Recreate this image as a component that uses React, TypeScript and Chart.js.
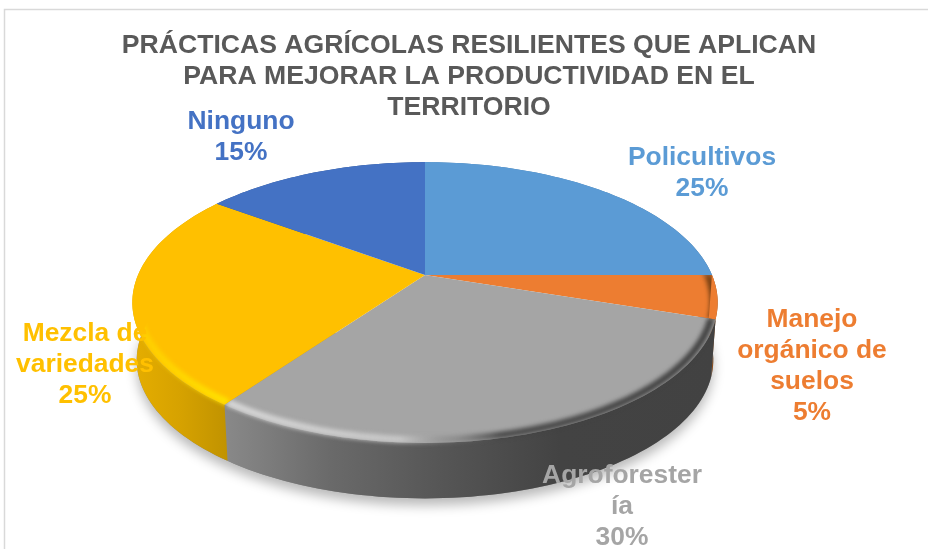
import React, { useEffect, useRef } from "react";
import { Chart, registerables } from "chart.js";

Chart.register(...registerables);

const categories = ["Policultivos", "Manejo orgánico de suelos", "Agroforestería", "Mezcla de variedades", "Ninguno"];
const values = [25, 5, 30, 25, 15];
const colors = ["#5B9BD5", "#ED7D31", "#A5A5A5", "#FFC000", "#4472C4"];
const titleLines = [
  "PRÁCTICAS AGRÍCOLAS RESILIENTES QUE APLICAN",
  "PARA MEJORAR LA PRODUCTIVIDAD EN EL",
  "TERRITORIO",
];
const labelLines = [
  ["Policultivos", "25%"],
  ["Manejo", "orgánico de", "suelos", "5%"],
  ["Agroforester", "ía", "30%"],
  ["Mezcla de", "variedades", "25%"],
  ["Ninguno", "15%"],
];
const labelAnchors = [
  [702, 158],
  [812, 320],
  [622, 476],
  [85, 334],
  [241, 122],
];

// side-wall gradients per slice: [x, colour]
const sideStops: [number, string][][] = [
  [[600, "#4a80b0"], [720, "#3c6a94"]],
  [[690, "#c8691f"], [720, "#7c4314"]],
  [[228, "#888888"], [330, "#6a6a6a"], [440, "#565656"], [560, "#434343"], [720, "#424242"]],
  [[130, "#e6ae00"], [180, "#d6a200"], [235, "#bd9000"]],
  [[200, "#33548f"], [430, "#33548f"]],
];
// rim (bevel) gradients per slice
const rimStops: [number, string][][] = [
  [[560, "rgba(60,90,120,0)"], [716, "rgba(50,80,110,0.7)"]],
  [[700, "rgba(90,50,10,0.6)"], [718, "rgba(70,40,10,0.85)"]],
  [[228, "rgba(215,215,215,1)"], [400, "rgba(205,205,205,0.85)"], [455, "rgba(120,120,120,0.5)"], [500, "rgba(66,66,66,0.9)"], [716, "rgba(66,66,66,1)"]],
  [[130, "rgba(255,215,0,0.55)"], [235, "rgba(255,228,0,1)"]],
  [[200, "rgba(68,114,196,0)"], [430, "rgba(68,114,196,0)"]],
];

const CX = 425, CY = 275, A = 287, B = 135, P = 0.196, DEPTH = 56, BOTTOM_SCALE = 0.985;
const RIM_LIMIT = Math.PI * 1.58;

function project(theta: number, bottom: boolean, r = 1): [number, number] {
  const u = Math.sin(theta) * r;
  const v = -Math.cos(theta) * r;
  const d = 1 - P * v;
  const x = (A * u) / d;
  const y = (B * v) / d;
  if (!bottom) return [CX + x, CY + y];
  return [CX + x * BOTTOM_SCALE, CY + y * BOTTOM_SCALE + 2 + DEPTH];
}

function arcPts(a0: number, a1: number, bottom: boolean, r = 1) {
  const n = Math.max(4, Math.ceil(((a1 - a0) / (Math.PI * 2)) * 240));
  const pts: [number, number][] = [];
  for (let i = 0; i <= n; i++) pts.push(project(a0 + ((a1 - a0) * i) / n, bottom, r));
  return pts;
}

function trace(ctx: CanvasRenderingContext2D, pts: [number, number][], start = true) {
  pts.forEach((p, i) => {
    if (i === 0 && start) ctx.moveTo(p[0], p[1]);
    else ctx.lineTo(p[0], p[1]);
  });
}

function grad(ctx: CanvasRenderingContext2D, stops: [number, string][]) {
  const x0 = stops[0][0];
  const x1 = stops[stops.length - 1][0];
  const g = ctx.createLinearGradient(x0, 0, x1, 0);
  stops.forEach(([x, c]) => g.addColorStop((x - x0) / (x1 - x0), c));
  return g;
}

const pie3d = {
  id: "pie3d",
  beforeDraw(chart: any) {
    const { ctx, width, height } = chart;
    ctx.save();
    ctx.fillStyle = "#ffffff";
    ctx.fillRect(0, 0, width, height);
    ctx.strokeStyle = "#d9d9d9";
    ctx.lineWidth = 1.5;
    ctx.strokeRect(4.5, 9.5, width + 20, height + 20);
    ctx.restore();
  },
  beforeDatasetsDraw(chart: any) {
    const { ctx } = chart;
    const arcs = chart.getDatasetMeta(0).data;
    const angles = arcs.map((el: any) => {
      const p = el.getProps(["startAngle", "endAngle"], true);
      return [p.startAngle + Math.PI / 2, p.endAngle + Math.PI / 2];
    });

    // soft ground shadow
    ctx.save();
    ctx.shadowColor = "rgba(0,0,0,0.28)";
    ctx.shadowBlur = 12;
    ctx.shadowOffsetY = 7;
    ctx.fillStyle = "#888888";
    ctx.beginPath();
    trace(ctx, arcPts(Math.PI / 2, Math.PI * 1.5, true));
    ctx.closePath();
    ctx.fill();
    ctx.restore();

    // side walls
    angles.forEach(([a0, a1]: number[], i: number) => {
      ctx.beginPath();
      trace(ctx, arcPts(a0, a1, false));
      trace(ctx, arcPts(a0, a1, true).reverse(), false);
      ctx.closePath();
      ctx.fillStyle = grad(ctx, sideStops[i]);
      ctx.fill();
    });

    // top faces
    angles.forEach(([a0, a1]: number[], i: number) => {
      ctx.beginPath();
      ctx.moveTo(CX, CY);
      trace(ctx, arcPts(a0, a1, false), false);
      ctx.closePath();
      ctx.fillStyle = arcs[i].options.backgroundColor;
      ctx.fill();
    });

    // bevel along the rim
    angles.forEach(([a0, a1]: number[], i: number) => {
      const end = Math.min(a1, RIM_LIMIT);
      if (end <= a0) return;
      const t0 = project(a0, false);
      const t1 = project(a1, false);
      ctx.save();
      ctx.beginPath();
      ctx.moveTo(CX, CY);
      ctx.lineTo(t0[0], t0[1]);
      trace(ctx, arcPts(a0, a1, true), false);
      ctx.lineTo(t1[0], t1[1]);
      ctx.closePath();
      ctx.clip();
      ctx.filter = "blur(2px)";
      ctx.lineWidth = 7;
      ctx.strokeStyle = grad(ctx, rimStops[i]);
      ctx.beginPath();
      trace(ctx, arcPts(a0, end, false, 0.985));
      ctx.stroke();
      ctx.restore();
    });

    // data labels
    ctx.save();
    ctx.font = 'bold 26.4px "Liberation Sans", Arial, sans-serif';
    ctx.textAlign = "center";
    ctx.textBaseline = "middle";
    labelLines.forEach((lines, i) => {
      ctx.fillStyle = arcs[i].options.backgroundColor;
      lines.forEach((t, j) => ctx.fillText(t, labelAnchors[i][0], labelAnchors[i][1] + j * 31));
    });
    ctx.restore();
    return false;
  },
};

export default function App() {
  const ref = useRef<HTMLCanvasElement>(null);
  useEffect(() => {
    const chart = new Chart(ref.current!, {
      type: "pie",
      data: {
        labels: categories,
        datasets: [{ data: values, backgroundColor: colors, borderWidth: 0 }],
      },
      plugins: [pie3d],
      options: {
        animation: false,
        responsive: false,
        layout: { padding: { left: 10 } },
        plugins: {
          legend: { display: false },
          tooltip: { enabled: false },
          title: {
            display: true,
            text: titleLines,
            color: "#595959",
            font: { family: '"Liberation Sans", Arial, sans-serif', size: 26.6, weight: "bold", lineHeight: 1.165 },
            padding: { top: 30, bottom: 0 },
          },
        },
      },
    } as any);
    return () => chart.destroy();
  }, []);
  return (
    <div style={{ position: "fixed", left: 0, top: 0, width: 928, height: 549, background: "#fff" }}>
      <canvas ref={ref} width={928} height={549} style={{ display: "block" }} />
    </div>
  );
}
